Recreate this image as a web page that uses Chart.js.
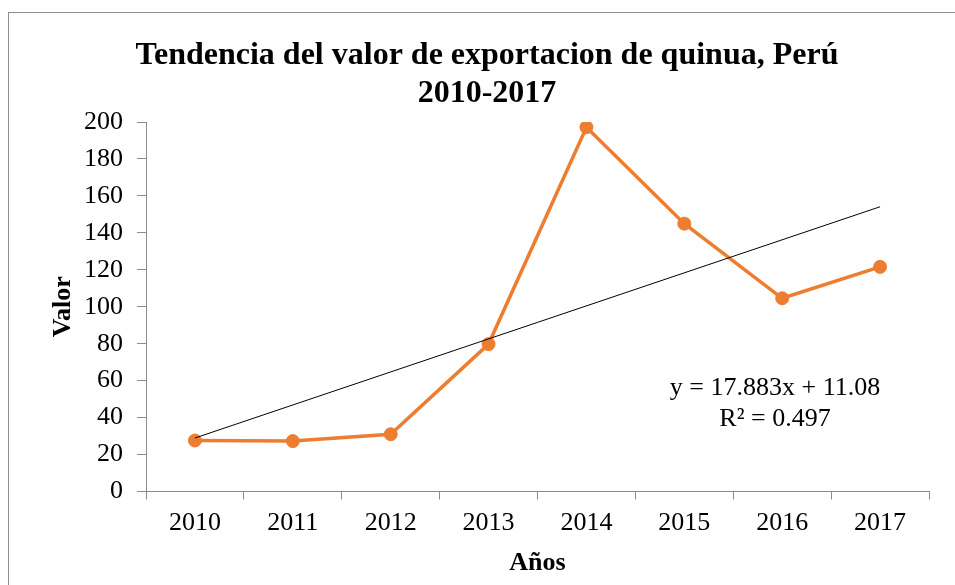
<!DOCTYPE html>
<html lang="es">
<head>
  <meta charset="UTF-8" />
  <title>Tendencia del valor de exportacion de quinua</title>
  <script src="https://cdn.jsdelivr.net/npm/chart.js"></script>
  <style>
    * { margin: 0; padding: 0; box-sizing: border-box; }
    body { background: #fff; width: 955px; height: 585px; overflow: hidden; position: relative; }
    #frame {
      position: absolute;
      left: 8px;
      top: 12px;
      width: 970px;
      height: 600px;
      border: 1px solid #8e8e8e;
      pointer-events: none;
    }
    canvas { position: absolute; left: 0; top: 0; }
  </style>
</head>
<body>
  <canvas id="chart" width="955" height="585"></canvas>
  <div id="frame"></div>

  <script>
    // datos
    const years = ['2010', '2011', '2012', '2013', '2014', '2015', '2016', '2017'];
    const values = [27.6, 27.3, 31.0, 79.8, 197.2, 145.0, 104.6, 121.6];
    // linea de tendencia (y = 17.883x + 11.08) en el primer y ultimo año
    const trendValues = [28.96, null, null, null, null, null, null, 154.14];
    const yTicks = [0, 20, 40, 60, 80, 100, 120, 140, 160, 180, 200];
    const equationLines = ['y = 17.883x + 11.08', 'R² = 0.497'];

    const serif = "'Liberation Serif', 'Times New Roman', serif";
    const orange = '#ED7D31';
    const axisGrey = '#8c8c8c';

    // texto de la ecuacion de tendencia
    const equationLabel = {
      id: 'equationLabel',
      afterDatasetsDraw(chart) {
        const ctx = chart.ctx;
        ctx.save();
        ctx.font = '26px ' + serif;
        ctx.fillStyle = '#000';
        ctx.textAlign = 'center';
        ctx.textBaseline = 'middle';
        ctx.fillText(equationLines[0], 775, 388.5);
        ctx.fillText(equationLines[1], 775, 419.5);
        ctx.restore();
      }
    };

    new Chart(document.getElementById('chart'), {
      type: 'line',
      data: {
        labels: years,
        datasets: [
          {
            label: 'Lineal (Valor)',
            data: trendValues,
            borderColor: '#000',
            borderWidth: 1,
            pointRadius: 0,
            spanGaps: true,
            fill: false,
            order: 0
          },
          {
            label: 'Valor',
            data: values,
            borderColor: orange,
            backgroundColor: orange,
            borderWidth: 3.5,
            pointRadius: 6.5,
            pointBorderWidth: 1,
            pointBorderColor: orange,
            pointBackgroundColor: orange,
            tension: 0,
            fill: false,
            order: 1
          }
        ]
      },
      options: {
        responsive: false,
        animation: false,
        layout: { padding: { top: 12, left: 45, right: 26, bottom: 0 } },
        plugins: {
          legend: { display: false },
          tooltip: { enabled: false },
          title: {
            display: true,
            text: ['Tendencia del valor de exportacion de quinua, Perú', '2010-2017'],
            color: '#000',
            font: { family: serif, size: 32, weight: 'bold', lineHeight: 1.16 },
            padding: { top: 25.6, bottom: 10.2 }
          }
        },
        scales: {
          x: {
            offset: true,
            grid: {
              offset: true,
              drawOnChartArea: false,
              tickLength: 8,
              color: axisGrey
            },
            border: { color: axisGrey, width: 1 },
            ticks: { color: '#000', padding: 8, font: { family: serif, size: 26 } },
            title: {
              display: true,
              text: 'Años',
              color: '#000',
              font: { family: serif, size: 26, weight: 'bold' },
              padding: { top: 0, bottom: 6 }
            },
            afterFit(scale) { scale.height = 93.5; }
          },
          y: {
            min: 0,
            max: 200,
            afterBuildTicks(scale) { scale.ticks = yTicks.map(v => ({ value: v })); },
            grid: {
              drawOnChartArea: false,
              tickLength: 9,
              color: axisGrey
            },
            border: { color: axisGrey, width: 1 },
            ticks: { color: '#000', padding: 14, font: { family: serif, size: 26 } },
            title: {
              display: true,
              text: 'Valor',
              color: '#000',
              font: { family: serif, size: 26, weight: 'bold' },
              padding: { top: 2.4, bottom: 0 }
            },
            afterFit(scale) { scale.width = 101; }
          }
        }
      },
      plugins: [equationLabel]
    });
  </script>
</body>
</html>
